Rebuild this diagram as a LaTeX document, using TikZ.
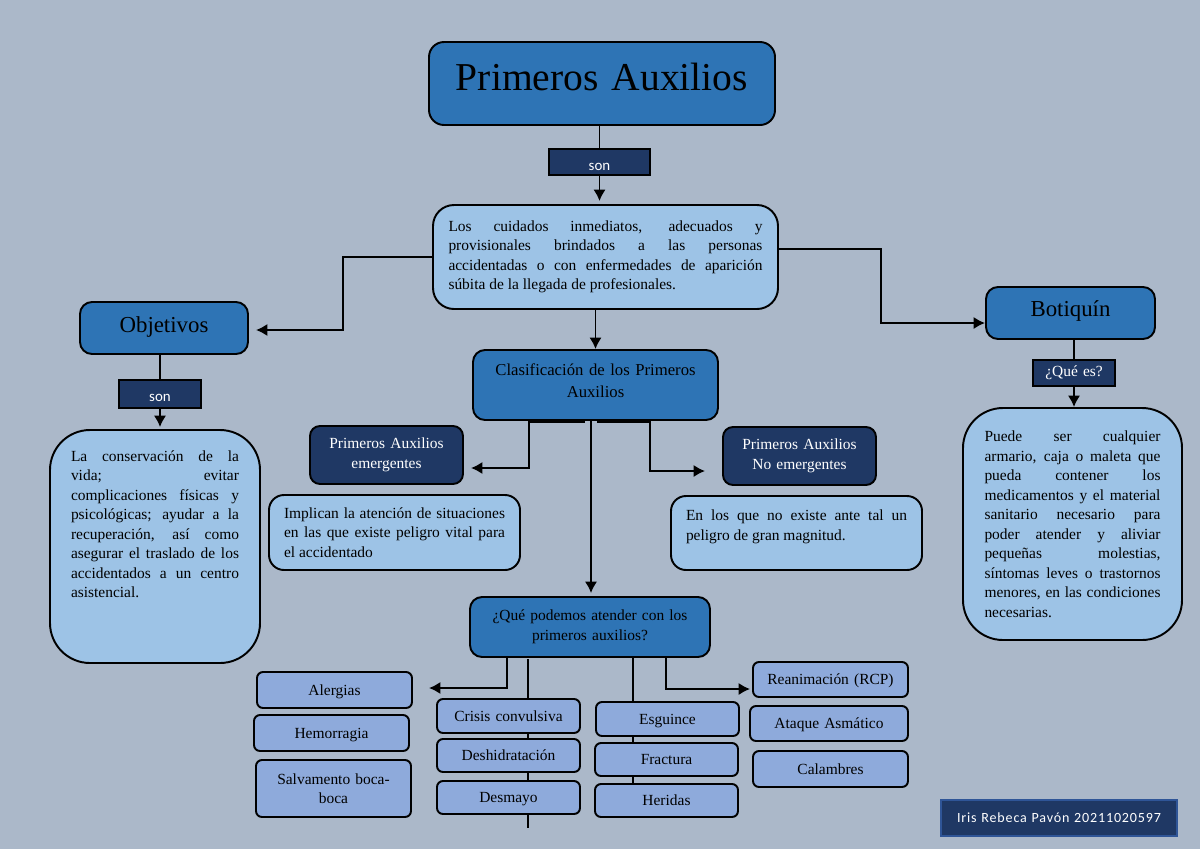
\documentclass[tikz,border=0pt]{standalone}
\usepackage{fontspec}
\setmainfont{Liberation Serif}
\newfontfamily\authfont[LetterSpace=6]{Carlito}
\newfontfamily\sonfont{Carlito}
\usetikzlibrary{arrows.meta}
\definecolor{pagebg}{HTML}{ABB8C9}
\definecolor{midblue}{HTML}{2E74B5}
\definecolor{lightblue}{HTML}{9DC3E6}
\definecolor{darkblue}{HTML}{1F3864}
\definecolor{periblue}{HTML}{8EAADB}
\definecolor{authline}{HTML}{2F5597}
\newcommand{\px}{0.02cm}
\newlength{\pxlen}
\setlength{\pxlen}{0.02cm}
\newcommand{\pad}[1]{\par\nointerlineskip\vbox to #1\pxlen{\vss}}
\newcommand{\toppad}[1]{\rule{0pt}{#1pt}}
\newcommand{\lift}{\rule[-1.9pt]{0pt}{9.5pt}}
\tikzset{
  sized/.style 2 args={minimum width=#1*\px, minimum height=#2*\px},
  base/.style={draw=black, line width=1.1pt, inner sep=0pt, text width=#1*\px, align=center,
    font=\fontsize{8.8}{11.1}\selectfont},
  base/.default=300,
  dark/.style={base=#1, fill=darkblue, text=white},
  mid/.style={base=#1, fill=midblue, rounded corners=0.24cm},
  light/.style={base=#1, fill=lightblue, align=justify},
  peri/.style={base=140, fill=periblue, rounded corners=0.12cm},
  sonbox/.style={dark=#1, font=\fontsize{8.5}{10}\sonfont},
  line/.style={black, line width=1.1pt},
  arr/.style={line, -{Latex[length=6.5pt,width=7pt]}},
  bar/.style={black, line width=1.8pt}
}
\begin{document}
\begin{tikzpicture}[x=0.02cm,y=-0.02cm]
    \fill [pagebg] (0,0) rectangle (1200,849);
    \useasboundingbox (0,0) rectangle (1200,849);
    \node [mid=340, sized={346}{83}, rounded corners=0.3cm, font=\fontsize{22.5}{26}\selectfont] (title) at (602,83.5) {Primeros Auxilios\pad{13}};
    \node [sonbox=100, sized={101}{26}] (son1) at (599.5,162) {\toppad{9.7}son};
    \node [light=314, sized={345}{104}, rounded corners=0.42cm] (def) at (605.5,257) {Los cuidados inmediatos, adecuados y\linebreak provisionales brindados a las personas\linebreak accidentadas o con enfermedades de aparición\linebreak súbita de la llegada de profesionales.};
    \node [mid=160, sized={168}{52}, font=\fontsize{13}{15}\selectfont] (obj) at (164,328) {Objetivos\pad{2}};
    \node [sonbox=80, sized={82}{28}] (son2) at (160,394) {\toppad{8.5}son};
    \node [light=168, sized={210}{233}, rounded corners=0.8cm] (objtext) at (155,546.5) {La conservación de la\linebreak vida; evitar\linebreak complicaciones físicas y\linebreak psicológicas; ayudar a la\linebreak recuperación, así como\linebreak asegurar el traslado de los\linebreak accidentados a un centro\linebreak asistencial.\pad{45}};
    \node [mid=235, sized={245}{70}, font=\fontsize{9.5}{12.5}\selectfont] (clas) at (595.5,385) {Clasificación de los Primeros\\Auxilios\pad{8}};
    \node [dark=150, sized={153}{58}, rounded corners=0.2cm] (emg) at (386.5,455) {Primeros Auxilios\\emergentes};
    \node [dark=150, sized={153}{58}, rounded corners=0.2cm] (noemg) at (799.5,456) {Primeros Auxilios\\No emergentes};
    \node [light=221, sized={251}{75}, rounded corners=0.3cm] (impl) at (394.5,532.5) {Implican la atención de situaciones\linebreak en las que existe peligro vital para\linebreak el accidentado};
    \node [light=221, sized={251}{74}, rounded corners=0.3cm] (enlos) at (796.5,533) {En los que no existe ante tal un\linebreak peligro de gran magnitud.\pad{12}};
    \node [mid=230, sized={240}{60}] (que) at (590,627) {¿Qué podemos atender con los\\primeros auxilios?};
    \node [peri, sized={155}{36}] (aler) at (334.5,690) {\lift Alergias};
    \node [peri, sized={155}{36}] (hemo) at (331.5,733) {\lift Hemorragia};
    \node [peri, sized={155}{57}] (salv) at (333.5,788.5) {Salvamento boca-\\boca};
    \node [peri, sized={143}{34}] (cris) at (508.5,716) {\lift Crisis convulsiva};
    \node [peri, sized={143}{33}] (desh) at (508.5,755.5) {\lift Deshidratación};
    \node [peri, sized={143}{33}] (desm) at (508.5,797.5) {\lift Desmayo};
    \node [peri, sized={143}{34}] (esg) at (667.5,719) {\lift Esguince};
    \node [peri, sized={143}{33}] (frac) at (666.5,759.5) {\lift Fractura};
    \node [peri, sized={143}{33}] (heri) at (666.5,800.5) {\lift Heridas};
    \node [peri, sized={155}{35}] (rean) at (830.5,679.5) {\lift Reanimación (RCP)};
    \node [peri, sized={158}{35}] (ataq) at (829,723.5) {\lift Ataque Asmático};
    \node [peri, sized={155}{36}] (cala) at (830.5,769) {\lift Calambres};
    \node [mid=160, sized={169}{52}, font=\fontsize{13}{15}\selectfont] (bot) at (1070.5,313) {Botiquín\pad{4}};
    \node [dark=80, sized={82}{26}] (qes) at (1074,373) {¿Qué es?};
    \node [light=176, sized={219}{232}, rounded corners=0.8cm] (bottext) at (1072.5,524) {Puede ser cualquier\linebreak armario, caja o maleta que\linebreak pueda contener los\linebreak medicamentos y el material\linebreak sanitario necesario para\linebreak poder atender y aliviar\linebreak pequeñas molestias,\linebreak síntomas leves o trastornos\linebreak menores, en las condiciones\linebreak necesarias.};
    \node [dark=230, draw=authline, line width=0.6pt, sized={236}{36}, font=\fontsize{8}{10}\authfont] (auth) at (1059,818) {Iris Rebeca Pavón 20211020597};
    \coordinate (defBendL) at (343,257);
    \coordinate (defOutR) at (778,249);
    \coordinate (defBendR) at (881,249);
    \coordinate (botIn) at (985,323);
    \coordinate (objIn) at (248,330);
    \coordinate (clasDropL) at (529,420);
    \coordinate (clasDropM) at (591,420);
    \coordinate (clasDropR) at (650,420);
    \coordinate (barStartL) at (529,421);
    \coordinate (barEndL) at (585,421);
    \coordinate (barEndR) at (597,421);
    \coordinate (emgIn) at (463,468);
    \coordinate (noemgIn) at (723,471);
    \coordinate (queDropL) at (507,657);
    \coordinate (queDropR) at (666,657);
    \coordinate (alerIn) at (412,688);
    \coordinate (reanIn) at (753,689);
    \coordinate (spineL) at (528,659);
    \coordinate (spineR) at (633,657);
    \coordinate (spineEnd) at (528,828);
    \draw [line] (title.south -| son1.north) -- (son1.north);
    \draw [arr, shorten >=3*\px] (son1.south) -- (son1.south |- def.north);
    \draw [arr, shorten >=8*\px] (def.west) -- (defBendL) |- (objIn);
    \draw [arr] (defOutR) -- (defBendR) |- (botIn);
    \draw [arr] (clas.north |- def.south) -- (clas.north);
    \draw [line] (son2.north |- obj.south) -- (son2.north);
    \draw [arr, shorten >=2*\px] (son2.south) -- (son2.south |- objtext.north);
    \draw [line] (qes.north |- bot.south) -- (qes.north);
    \draw [arr] (qes.south) -- (qes.south |- bottext.north);
    \draw [bar] (barStartL) -- (barEndL);
    \draw [bar] (barEndR) -- (clasDropR |- barEndR);
    \draw [arr, shorten >=8*\px] (clasDropL) |- (emgIn);
    \draw [arr, shorten >=18*\px] (clasDropR) |- (noemgIn);
    \draw [arr, shorten >=3*\px] (clasDropM) -- (clasDropM |- que.north);
    \draw [arr, shorten >=17*\px] (queDropL) |- (alerIn);
    \draw [arr, shorten >=3*\px] (queDropR) |- (reanIn);
    \draw [line] (spineL) -- (cris.north -| spineL);
    \draw [line] (cris.south -| spineL) -- (desh.north -| spineL);
    \draw [line] (desh.south -| spineL) -- (desm.north -| spineL);
    \draw [line] (desm.south -| spineL) -- (spineEnd);
    \draw [line] (spineR) -- (esg.north -| spineR);
    \draw [line] (esg.south -| spineR) -- (frac.north -| spineR);
    \draw [line] (frac.south -| spineR) -- (heri.north -| spineR);
    \end{tikzpicture}
\end{document}
